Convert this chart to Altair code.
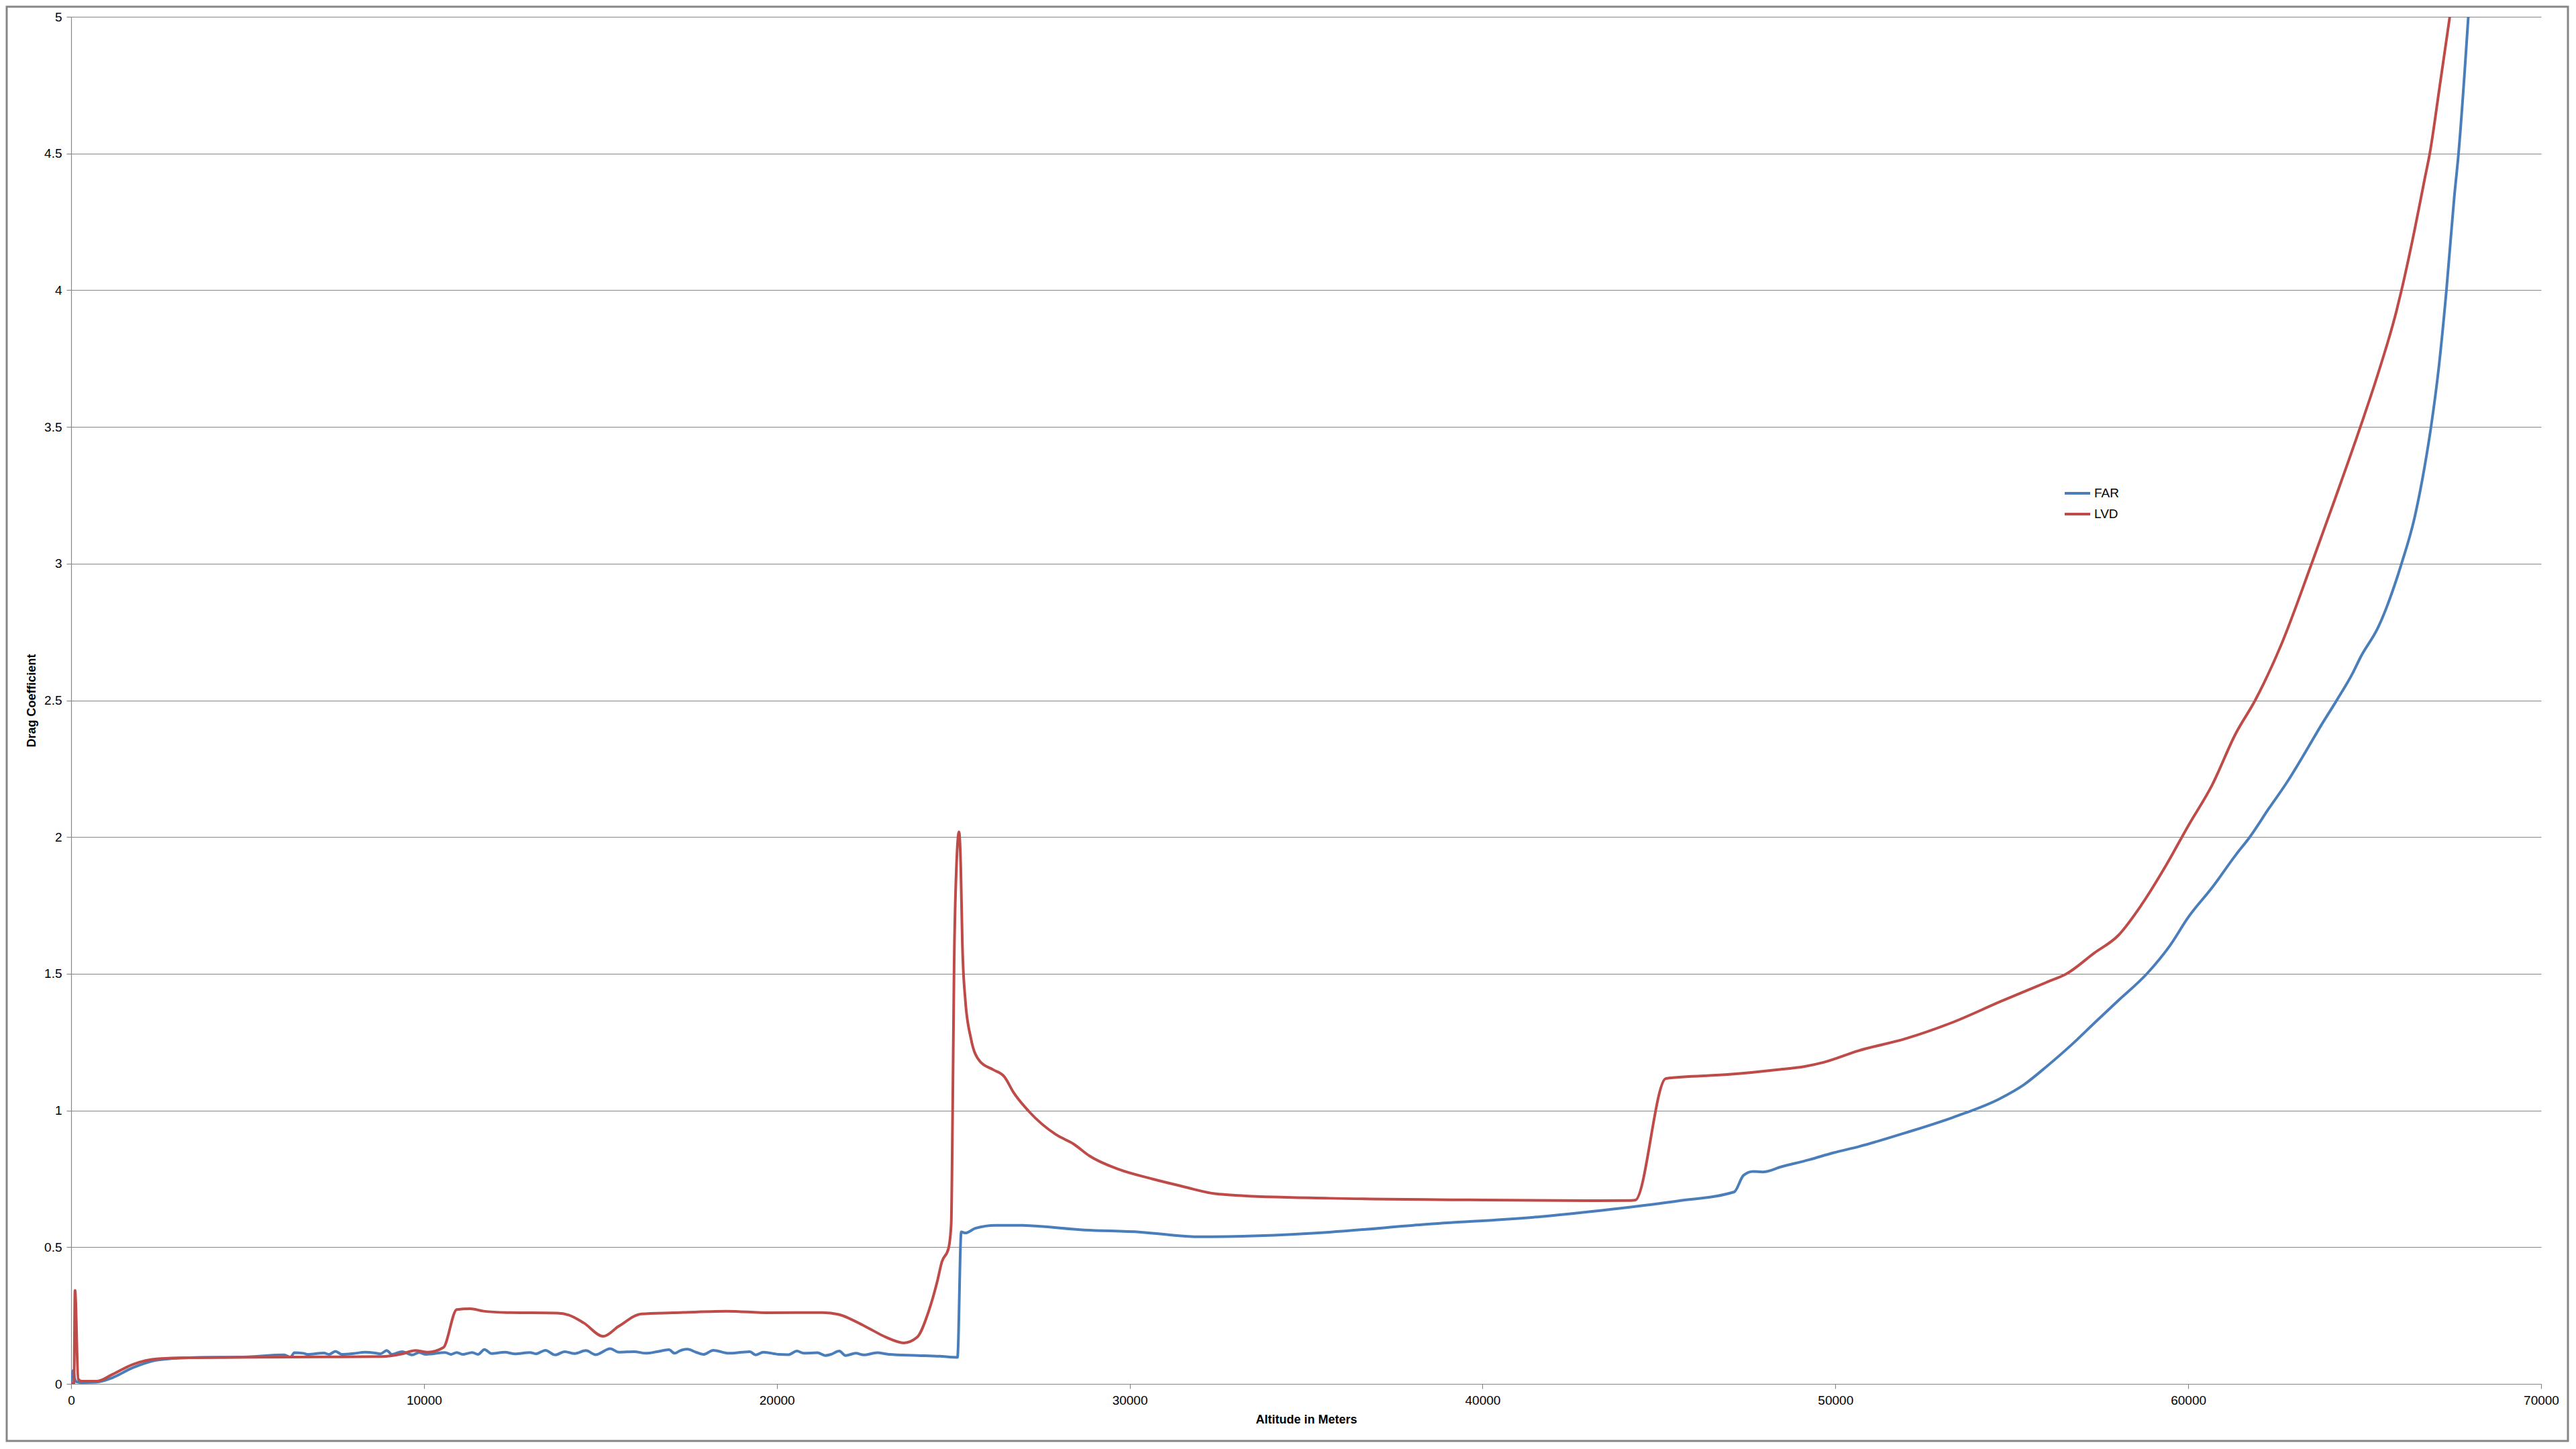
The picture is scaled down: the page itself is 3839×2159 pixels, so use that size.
import altair as alt
import pandas as pd

# ---- data ----
far_alt = [0, 60, 100, 150, 300, 700, 1160, 1745, 2470, 3350,
           5000, 6036, 6218, 6327, 6582, 6691, 7164, 7309, 7491, 7673,
           8000, 8328, 8618, 8764, 8945, 9091, 9382, 9673, 9855, 10055,
           10600, 10765, 10930, 11093, 11366, 11530, 11716, 11913, 12295, 12569,
           13006, 13170, 13443, 13716, 13990, 14263, 14591, 14864, 15279, 15520,
           15957, 16285, 16613, 16941, 17105, 17268, 17465, 17706, 17924, 18198,
           18635, 19018, 19236, 19400, 19618, 20056, 20329, 20569, 20766, 21149,
           21367, 21531, 21771, 21946, 22241, 22460, 22843, 23171, 24000, 24612,
           25119, 25227, 25341, 25626, 26197, 26830, 28732, 30317, 31918, 33653,
           35655, 38323, 41659, 43661, 45529, 47131, 47398, 47665, 47932, 48465,
           49266, 49933, 50667, 52002, 53336, 54671, 55338, 56005, 56673, 57340,
           58007, 58834, 59475, 60008, 60675, 61343, 61743, 62277, 62811, 63344,
           63745, 64212, 64679, 64880, 65389, 66044, 66408, 66699, 66881, 67099,
           67317, 67536, 67660, 67937]
far_cd = [0, 0.05, 0.02, 0.008, 0.005, 0.006, 0.022, 0.059, 0.088, 0.096,
          0.099, 0.106, 0.098, 0.114, 0.112, 0.108, 0.113, 0.108, 0.119, 0.108,
          0.111, 0.116, 0.113, 0.110, 0.122, 0.108, 0.118, 0.106, 0.115, 0.108,
          0.115, 0.108, 0.115, 0.108, 0.115, 0.108, 0.126, 0.111, 0.116, 0.110,
          0.115, 0.110, 0.123, 0.106, 0.118, 0.111, 0.122, 0.107, 0.129, 0.116,
          0.118, 0.112, 0.118, 0.125, 0.112, 0.122, 0.127, 0.116, 0.108, 0.123,
          0.112, 0.116, 0.118, 0.106, 0.116, 0.108, 0.107, 0.120, 0.112, 0.114,
          0.104, 0.108, 0.120, 0.104, 0.112, 0.106, 0.114, 0.108, 0.104, 0.101,
          0.097, 0.556, 0.552, 0.569, 0.580, 0.580, 0.563, 0.555, 0.538, 0.542,
          0.555, 0.583, 0.612, 0.639, 0.669, 0.702, 0.763, 0.777, 0.775, 0.794,
          0.820, 0.845, 0.868, 0.919, 0.975, 1.044, 1.094, 1.163, 1.238, 1.320,
          1.401, 1.501, 1.602, 1.708, 1.815, 1.934, 2.000, 2.103, 2.203, 2.316,
          2.404, 2.501, 2.604, 2.657, 2.769, 3.0, 3.165, 3.355, 3.501, 3.716,
          4.0, 4.337, 4.5, 5.0]

lvd_alt = [0, 80, 110, 200, 300, 730, 1160, 1745, 2470, 3350,
           6250, 8800, 9380, 9750, 10110, 10550, 10930, 11310, 11690, 12350,
           13770, 14100, 14530, 15080, 15520, 16170, 17050, 18580, 19780, 21310,
           21750, 22510, 23091, 23598, 23979, 24296, 24549, 24676, 24866, 24942,
           24980, 25024, 25088, 25164, 25214, 25259, 25341, 25500, 25753, 26134,
           26450, 26704, 27148, 27908, 28415, 28859, 29683, 30634, 31385, 32452,
           32986, 35655, 39658, 42994, 44200, 44328, 45196, 46997, 48331, 49132, 49666,
           50667, 52002, 53336, 54671, 56005, 56539, 57339, 58007, 58674, 59341,
           60008, 60675, 61343, 61896, 62624, 63497, 64152, 64880, 65389, 65899,
           66044, 66408, 66699, 66845, 67131, 67412]
lvd_cd = [0, 0.0, 0.342, 0.018, 0.01, 0.01, 0.034, 0.071, 0.092, 0.096,
          0.098, 0.100, 0.11, 0.122, 0.116, 0.133, 0.272, 0.275, 0.266, 0.261,
          0.259, 0.252, 0.223, 0.174, 0.211, 0.256, 0.260, 0.266, 0.260, 0.261,
          0.254, 0.210, 0.171, 0.150, 0.171, 0.263, 0.376, 0.446, 0.496, 0.587,
          0.968, 1.532, 1.885, 2.019, 1.885, 1.603, 1.405, 1.264, 1.180, 1.149,
          1.123, 1.067, 0.996, 0.912, 0.877, 0.834, 0.785, 0.750, 0.726, 0.695,
          0.690, 0.679, 0.673, 0.670, 0.671, 0.672, 1.117, 1.132, 1.149, 1.161, 1.176,
          1.219, 1.263, 1.323, 1.398, 1.470, 1.499, 1.576, 1.639, 1.752, 1.890,
          2.043, 2.190, 2.378, 2.5, 2.700, 3.0, 3.234, 3.501, 3.699, 3.923,
          4.0, 4.216, 4.406, 4.5, 4.750, 5.0]

series_names = ["FAR", "LVD"]
series_colors = ["#4A7EBB", "#BE4B48"]
x_ticks = [0, 10000, 20000, 30000, 40000, 50000, 60000, 70000]
y_ticks = [0, 0.5, 1, 1.5, 2, 2.5, 3, 3.5, 4, 4.5, 5]

rows = []
for a, c in zip(far_alt, far_cd):
    rows.append({"alt": a, "cd": c, "series": "FAR", "order": 0})
for a, c in zip(lvd_alt, lvd_cd):
    rows.append({"alt": a, "cd": c, "series": "LVD", "order": 1})
df = pd.DataFrame(rows)

W, H = 3681, 2037
FONT = "Liberation Sans"
GRAY = "#868686"

lines = alt.Chart(df).mark_line(strokeWidth=4, clip=True, interpolate="monotone").encode(
    x=alt.X("alt:Q", scale=alt.Scale(domain=[0, 70000], nice=False),
            axis=alt.Axis(values=x_ticks, format="d", title="Altitude in Meters",
                          grid=False, tickSize=7, labelPadding=8, titlePadding=10,
                          labelFlush=False)),
    y=alt.Y("cd:Q", scale=alt.Scale(domain=[0, 5], nice=False),
            axis=alt.Axis(values=y_ticks, format="~g", title="Drag Coefficient",
                          grid=True, tickSize=7, labelPadding=7, titlePadding=9,
                          labelFlush=False)),
    color=alt.Color("series:N", scale=alt.Scale(domain=series_names, range=series_colors),
                    legend=alt.Legend(orient="none", legendX=2969, legendY=689, title=None,
                                      symbolType="stroke", symbolSize=1444, symbolStrokeWidth=4,
                                      labelFontSize=19, labelFont=FONT, labelColor="black",
                                      padding=0, rowPadding=0, labelOffset=4)),
    detail="series:N",
    order="order:Q",
)

border = alt.Chart(pd.DataFrame({"k": [0]})).mark_rect(
    fillOpacity=0, stroke=GRAY, strokeWidth=3, clip=False
).encode(x=alt.value(-96), x2=alt.value(W + 40), y=alt.value(-15), y2=alt.value(H + 85))

chart = alt.layer(border, lines).properties(
    width=W, height=H,
    autosize=alt.AutoSizeParams(type="none"),
    padding={"left": 98, "top": 17, "right": 42, "bottom": 87},
    background="white",
).configure_view(stroke=None).configure_axis(
    domainColor=GRAY, gridColor=GRAY, tickColor=GRAY, domainWidth=1.2, gridWidth=1.2,
    tickWidth=1.2, labelFont=FONT, labelFontSize=19, labelColor="black",
    titleFont=FONT, titleFontSize=18, titleFontWeight="bold", titleColor="black",
)

chart.save("out.html", embed_options={"renderer": "svg", "actions": False})
